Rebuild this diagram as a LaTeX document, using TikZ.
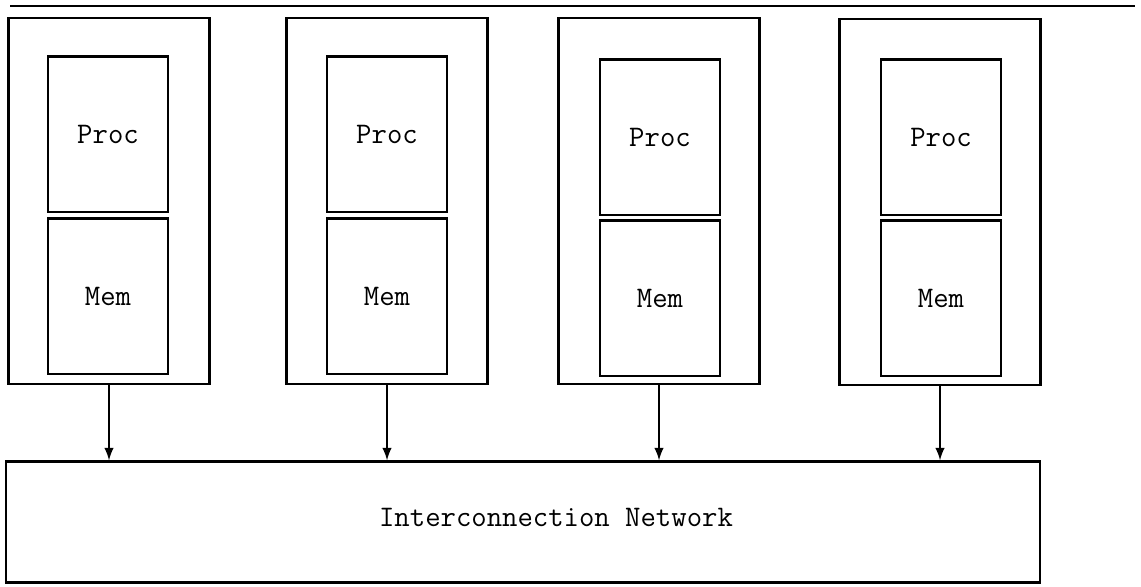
\documentclass[tikz,border=0pt]{standalone}
\usetikzlibrary{shapes}

\begin{document}
\begin{tikzpicture}[x=0.02cm,y=-0.02cm,line width=1.4pt,
    every node/.style={font=\ttfamily\fontsize{17}{20}\selectfont,inner sep=0pt},
    unit/.style={draw,rectangle,minimum width=4.02cm,minimum height=7.32cm},
    part/.style={draw,rectangle,minimum width=2.4cm,minimum height=3.11cm}]
        \useasboundingbox (0,0) rectangle (1141,586);

        \draw (10,6) -- (1135,6);

        \node[unit] (U1) at (109,201) {};
        \node[unit] (U2) at (387,201) {};
        \node[unit] (U3) at (659,201) {};
        \node[unit] (U4) at (940,202) {};

        \node[part] (P1) at (108,134) {Proc};
        \node[part] (P2) at (387,134) {Proc};
        \node[part] (P3) at (660,137) {Proc};
        \node[part] (P4) at (941,137) {Proc};

        \node[part] (M1) at (108,296) {Mem};
        \node[part] (M2) at (387,296) {Mem};
        \node[part] (M3) at (660,298) {Mem};
        \node[part] (M4) at (941,298) {Mem};

        \node[draw,rectangle,minimum width=20.68cm,minimum height=2.42cm] (net) at (523,522) {};
        \node (netlabel) at (556,517) {Interconnection Network};

        \draw[-latex] (U1.south) -- (U1.south |- net.north);
        \draw[-latex] (U2.south) -- (U2.south |- net.north);
        \draw[-latex] (U3.south) -- (U3.south |- net.north);
        \draw[-latex] (U4.south) -- (U4.south |- net.north);
      \end{tikzpicture}
\end{document}
